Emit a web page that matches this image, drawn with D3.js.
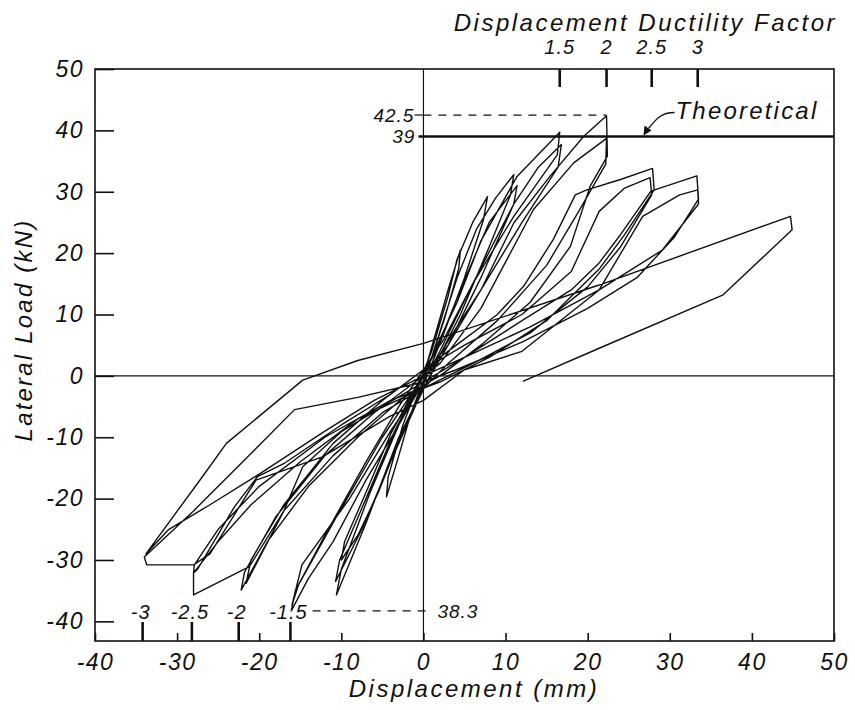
<!DOCTYPE html>
<html>
<head>
<meta charset="utf-8">
<script src="https://cdn.jsdelivr.net/npm/d3@7"></script>
<style>
  body { margin: 0; background: #fff; }
  svg text { font-family: "Liberation Sans", Arial, Helvetica, sans-serif; font-style: italic; fill: #111; }
</style>
</head>
<body>
<div id="chart"></div>
<script>
// axis ticks
const xTicks = [-40, -30, -20, -10, 0, 10, 20, 30, 40, 50];
const yTicks = [-40, -30, -20, -10, 0, 10, 20, 30, 40, 50];

// displacement ductility factor marks (label, displacement mm)
const ductTop = ["1.5", "2", "2.5", "3"];
const ductTopDisp = [16.6, 22.3, 27.8, 33.4];
const ductBottom = ["-1.5", "-2", "-2.5", "-3"];
const ductBottomDisp = [-16.2, -22.5, -28.2, -34.2];

// annotated loads (kN)
const peakLoad = 42.5, peakDisp = 22.3;
const theoreticalLoad = 39;
const negPeakLoad = 38.3, negDashStart = -13.5;

// load history, cycle by cycle: [displacement mm, lateral load kN]
const cycle1 = [[0,0],[1.5,7],[3,14],[4.5,20.5],[4.3,17.5],[2.5,9],[0.5,1],[-1.5,-6],[-3,-13],[-4.5,-19.7],[-4.3,-16.5],[-2.5,-8],[-0.5,-1]];
const cycle2 = [[1,4],[3,13],[4.1,19],[6,25],[7.8,29.2],[7.3,25.4],[5,16],[2.5,7],[0,-1.5],[-2.5,-9],[-5.5,-19],[-8,-26],[-10,-30],[-9.6,-27],[-7,-19],[-4,-9.5],[-1,-2]];
const cycle3 = [[1,3],[4.1,16],[6.5,24],[8.8,29],[11,32.8],[10.6,29.5],[8,21],[4.5,10],[1.5,2],[-1,-5],[-4,-14],[-7.5,-25],[-10.7,-33.5],[-10.2,-30],[-7,-20],[-3.5,-9],[-0.5,-1]];
const cycle4 = [[1.5,4],[4.5,14],[8,25],[11.4,31],[11,28],[7,16],[3,5],[0,-2],[-3,-10],[-7,-24],[-10.6,-35.7],[-10,-31.5],[-6.5,-19],[-3,-8],[0,0]];
const cycle5 = [[2,6],[4.1,12],[7,22],[11.4,32.5],[16.6,39.7],[16.3,36],[11,26],[6,15],[2,4],[0,-1],[-3,-8],[-7,-17],[-11,-27],[-14,-33],[-16.1,-38.3],[-15.6,-35],[-12,-26],[-7,-14],[-3,-5],[0,1]];
const cycle6 = [[2.5,6],[6,15],[11,28],[14,34],[16.8,37.7],[16.4,34],[12,25],[7,14],[3.6,7],[0,-1],[-4,-9],[-9,-20],[-14.8,-30.8],[-16,-37.3],[-15.2,-34],[-10.6,-23],[-5,-10],[-1.5,-3],[0.5,1]];
const cycle7 = [[3,5],[7,14],[11,24.9],[15.4,32.5],[19.5,39],[22.3,42.4],[22.4,35.8],[20.3,30.9],[17.9,21.1],[13,12],[7,5],[2,0],[-2,-3],[-8,-10],[-14,-18],[-19,-27],[-22.2,-34.9],[-21.8,-32],[-18,-23],[-12,-13],[-6,-6],[-1,-1]];
const cycle8 = [[2,2],[7,11],[13.4,27.1],[18.3,34.7],[22.3,38.7],[22.2,34.5],[19,27],[15,18],[9,9],[3,2],[0,-2],[-5,-6],[-11,-13],[-17,-22],[-21.6,-33.8],[-21,-30],[-17,-21],[-11,-11],[-5,-4],[0,1]];
const cycle9 = [[4,5],[9,10],[12.2,14.6],[15.8,22.2],[18.5,29.5],[19.9,30.3],[24,32],[27.9,33.8],[28.1,30.3],[24.5,23],[21.4,17.4],[15,9],[8,3],[2,-1],[-4,-4],[-12,-10],[-20,-18],[-25,-25],[-27.9,-30.8],[-28,-32.1],[-27.5,-31.5],[-23,-21.3],[-20.2,-16.4],[-16.9,-14.2],[-10,-8],[-4,-3],[0,1]];
const cycle10 = [[5,5],[12,10],[18,17],[21.4,26.8],[24.5,30.6],[27.6,32.3],[27.8,29.5],[24,21],[20,14.5],[13,7],[6,2],[0,-2],[-8,-7],[-15,-14],[-21,-21],[-25,-27],[-28,-32.1],[-28,-35.7],[-21.2,-31.1],[-17,-22],[-14.7,-14.8],[-9.9,-9],[-5,-5],[0,-1]];
const cycle11 = [[5,3],[12,9],[18,14],[21.4,18.4],[24,23],[27.7,30.1],[33.3,32.6],[33.5,28.8],[30.5,22.5],[26,16],[20,11],[12,5.5],[4,1],[0,-1],[-8,-3.5],[-15.7,-5.5],[-22,-14],[-28,-22],[-34,-29.5],[-33.7,-30.8],[-28,-30.8],[-26,-29],[-20.4,-17],[-12.3,-13.2],[-4.1,-6.6],[0,-4]];
const cycle12 = [[5,1],[12,4],[21.4,14],[26.7,26],[31.2,29.5],[33.4,30.3],[33.5,28],[29.1,20.5],[21.4,14],[13,8],[5,3],[0,0],[-6,-4],[-12,-9],[-20,-16],[-26,-21],[-31,-25],[-33.8,-29],[-26.9,-16.4],[-24,-11],[-14.7,-0.7],[-8,2.5],[0,5.3]];
const cycle13 = [[21.4,14.8],[44.7,26],[44.9,23.8],[36.5,13.2],[21.4,4.5],[12.1,-0.9]];

const history = [cycle1, cycle2, cycle3, cycle4, cycle5, cycle6, cycle7, cycle8, cycle9, cycle10, cycle11, cycle12, cycle13].flat();

const width = 855, height = 710;
const margin = { top: 69, right: 21, bottom: 69, left: 95 };

const svg = d3.select("#chart").append("svg")
    .attr("width", width)
    .attr("height", height);

const x = d3.scaleLinear().domain([-40, 50]).range([margin.left, width - margin.right]);
const y = d3.scaleLinear().domain([-43.2, 50]).range([height - margin.bottom, margin.top]);

// zero lines
svg.append("line")
    .attr("x1", x(0)).attr("x2", x(0))
    .attr("y1", y.range()[0]).attr("y2", y.range()[1])
    .attr("stroke", "#111").attr("stroke-width", 1.2);
svg.append("line")
    .attr("x1", x.range()[0]).attr("x2", x.range()[1])
    .attr("y1", y(0)).attr("y2", y(0))
    .attr("stroke", "#111").attr("stroke-width", 1.2);

// axes, ticks pointing inward; plain hyphen for negatives
const fmt = d => String(d);
const yAxis = svg.append("g")
    .attr("transform", `translate(${margin.left},0)`)
    .call(d3.axisLeft(y).tickValues(yTicks).tickFormat(fmt).tickSize(-19).tickPadding(11));
const xAxis = svg.append("g")
    .attr("transform", `translate(0,${height - margin.bottom})`)
    .call(d3.axisBottom(x).tickValues(xTicks).tickFormat(fmt).tickSize(-8).tickPadding(13));

[xAxis, yAxis].forEach(a => {
    a.select(".domain").remove();
    a.selectAll(".tick line").attr("stroke", "#111").attr("stroke-width", 1.6);
    a.selectAll(".tick text")
        .style("font-size", "23px")
        .style("letter-spacing", "1.5px")
        .attr("fill", "#111");
});

// frame
svg.append("rect")
    .attr("x", x.range()[0]).attr("y", y.range()[1])
    .attr("width", x.range()[1] - x.range()[0])
    .attr("height", y.range()[0] - y.range()[1])
    .attr("fill", "none").attr("stroke", "#111").attr("stroke-width", 1.6);

// theoretical strength line
svg.append("line")
    .attr("x1", x(0) - 5).attr("x2", x.range()[1])
    .attr("y1", y(theoreticalLoad)).attr("y2", y(theoreticalLoad))
    .attr("stroke", "#111").attr("stroke-width", 2.6);

// peak load dashed guides
svg.append("line")
    .attr("x1", x(0) - 9).attr("x2", x(0))
    .attr("y1", y(peakLoad)).attr("y2", y(peakLoad))
    .attr("stroke", "#111").attr("stroke-width", 1.2);
svg.append("line")
    .attr("x1", x(0)).attr("x2", x(peakDisp))
    .attr("y1", y(peakLoad)).attr("y2", y(peakLoad))
    .attr("stroke", "#111").attr("stroke-width", 1.2)
    .attr("stroke-dasharray", "8,7");
svg.append("line")
    .attr("x1", x(negDashStart)).attr("x2", x(0) + 8)
    .attr("y1", y(-negPeakLoad)).attr("y2", y(-negPeakLoad))
    .attr("stroke", "#111").attr("stroke-width", 1.2)
    .attr("stroke-dasharray", "8,7");

svg.append("text")
    .attr("x", x(0) - 9).attr("y", y(peakLoad)).attr("dy", "0.35em")
    .attr("text-anchor", "end")
    .style("font-size", "19px").style("letter-spacing", "1px")
    .text(peakLoad);
svg.append("text")
    .attr("x", x(0) - 8).attr("y", y(theoreticalLoad)).attr("dy", "0.35em")
    .attr("text-anchor", "end")
    .style("font-size", "19px").style("letter-spacing", "1px")
    .text(theoreticalLoad);
svg.append("text")
    .attr("x", x(0) + 14).attr("y", y(-negPeakLoad)).attr("dy", "0.35em")
    .style("font-size", "19px").style("letter-spacing", "1px")
    .text(negPeakLoad);

// hysteresis curve
const line = d3.line().x(d => x(d[0])).y(d => y(d[1]));
svg.append("path")
    .datum(history)
    .attr("d", line)
    .attr("fill", "none")
    .attr("stroke", "#111")
    .attr("stroke-width", 1.4)
    .attr("stroke-linejoin", "round");

// ductility marks
const yTop = y.range()[1], yBot = y.range()[0];
ductTop.forEach((lab, i) => {
    svg.append("line")
        .attr("x1", x(ductTopDisp[i])).attr("x2", x(ductTopDisp[i]))
        .attr("y1", yTop).attr("y2", yTop + 18)
        .attr("stroke", "#111").attr("stroke-width", 2.6);
    svg.append("text")
        .attr("x", x(ductTopDisp[i])).attr("y", yTop - 15)
        .attr("text-anchor", "middle")
        .style("font-size", "20px").style("letter-spacing", "1px")
        .text(lab);
});
ductBottom.forEach((lab, i) => {
    svg.append("line")
        .attr("x1", x(ductBottomDisp[i])).attr("x2", x(ductBottomDisp[i]))
        .attr("y1", yBot).attr("y2", yBot - 19)
        .attr("stroke", "#111").attr("stroke-width", 2.6);
    svg.append("text")
        .attr("x", x(ductBottomDisp[i]) - 2).attr("y", yBot - 22)
        .attr("text-anchor", "middle")
        .style("font-size", "20px").style("letter-spacing", "1px")
        .text(lab);
});

// "Theoretical" label with curved leader
const ax = x(26.8), ay = y(theoreticalLoad);
svg.append("path")
    .attr("d", `M${ax + 31},${ay - 24} C${ax + 18},${ay - 24} ${ax + 13},${ay - 18} ${ax + 5},${ay - 8}`)
    .attr("fill", "none").attr("stroke", "#111").attr("stroke-width", 1.3);
svg.append("path")
    .attr("d", `M${ax},${ay - 1} L${ax + 1},${ay - 11} L${ax + 8},${ay - 6} Z`)
    .attr("fill", "#111");
svg.append("text")
    .attr("x", ax + 32).attr("y", ay - 18)
    .style("font-size", "24px").style("letter-spacing", "2.2px")
    .text("Theoretical");

// titles
svg.append("text")
    .attr("x", 837).attr("y", 31)
    .attr("text-anchor", "end")
    .style("font-size", "24px").style("letter-spacing", "2.5px")
    .text("Displacement Ductility Factor");

svg.append("text")
    .attr("x", 474).attr("y", 697)
    .attr("text-anchor", "middle")
    .style("font-size", "24px").style("letter-spacing", "2.5px")
    .text("Displacement (mm)");

svg.append("text")
    .attr("transform", "translate(32,330) rotate(-90)")
    .attr("text-anchor", "middle")
    .style("font-size", "24px").style("letter-spacing", "2.2px")
    .text("Lateral Load (kN)");
</script>
</body>
</html>
